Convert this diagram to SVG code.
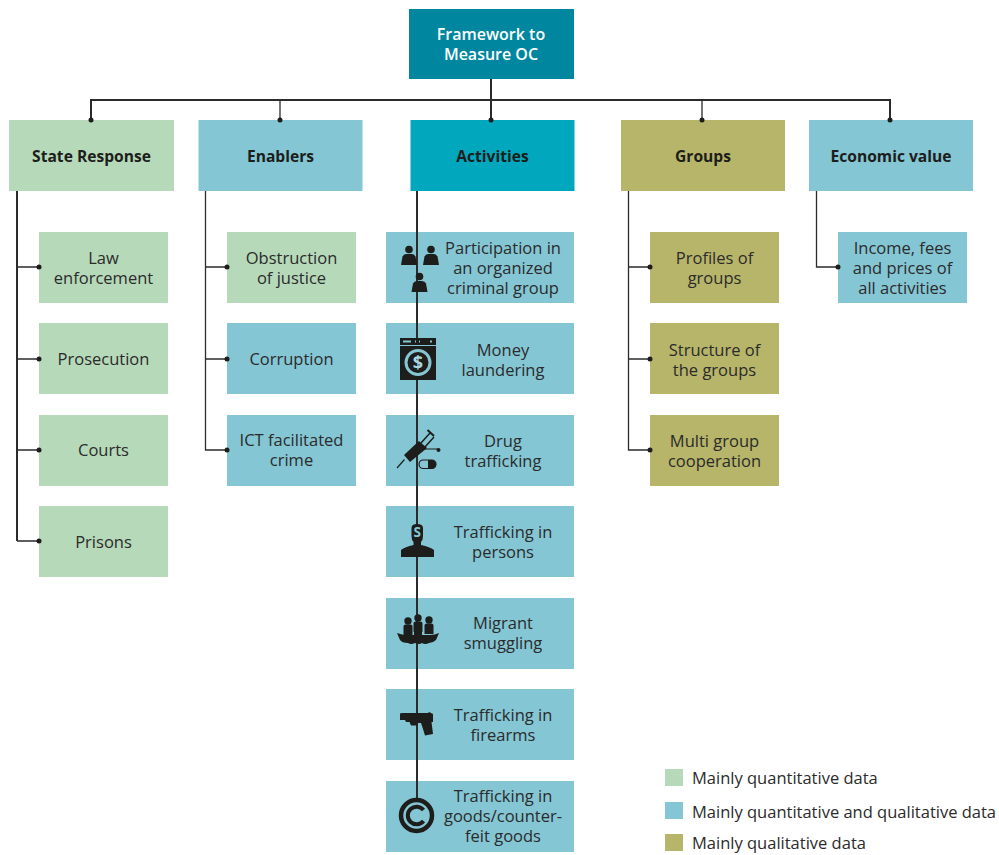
<svg xmlns="http://www.w3.org/2000/svg" width="999" height="855" viewBox="0 0 999 855">
<defs>
<style>
text{font-family:"Open Sans","Noto Sans","Liberation Sans",sans-serif;font-size:16.500px;fill:#2b2b2b;text-anchor:middle}
.b{font-weight:700;font-size:15.600px;fill:#1d1d1b}
.w{font-weight:600;font-size:16px;fill:#fff}
.l{text-anchor:start}
.g{fill:#b6d9b9}.t{fill:#84c6d4}.o{fill:#b7b569}.a{fill:#00a7bd}.d{fill:#00879f}
.c{fill:none;stroke:#2b2b2b;stroke-width:1.300}
.c2{fill:none;stroke:#2b2b2b;stroke-width:2}
.dot{fill:#1d1d1b}
.i{fill:#1d1d1b}
</style>
<g id="person"><circle cx="0" cy="-8.500" r="3.800"/><path d="M-8 7L-6.500 -1.500Q-5.500 -4 -2.500 -4H2.500Q5.500 -4 6.500 -1.500L8 7Z"/></g>
<g id="rider"><circle cx="0" cy="0" r="3.700"/><path d="M-4.500 14V5.500Q-4.500 3.500 -2.500 3.500H2.500Q4.500 3.500 4.500 5.500V14Z"/></g>
</defs>

<g id="node-root"><rect class="d" x="409" y="9" width="165" height="70"/><text class="w" x="491" y="40">Framework to</text><text class="w" x="491" y="60">Measure OC</text></g>

<g id="node-state"><rect class="g" x="9" y="120" width="165" height="71"/><text class="b" x="91.500" y="162">State Response</text></g>
<g id="node-enablers"><rect class="t" x="198.500" y="120" width="164" height="71"/><text class="b" x="280.500" y="162">Enablers</text></g>
<g id="node-activities"><rect class="a" x="410.500" y="120" width="164" height="71"/><text class="b" x="492.500" y="162">Activities</text></g>
<g id="node-groups"><rect class="o" x="621" y="120" width="164" height="71"/><text class="b" x="703" y="162">Groups</text></g>
<g id="node-economic"><rect class="t" x="809" y="120" width="164" height="71"/><text class="b" x="891" y="162">Economic value</text></g>

<g id="node-law"><rect class="g" x="39" y="232" width="129" height="71"/><text x="103.500" y="263.500">Law</text><text x="103.500" y="283.500">enforcement</text></g>
<g id="node-prosecution"><rect class="g" x="39" y="323" width="129" height="71"/><text x="103.500" y="365">Prosecution</text></g>
<g id="node-courts"><rect class="g" x="39" y="415" width="129" height="71"/><text x="103.500" y="456">Courts</text></g>
<g id="node-prisons"><rect class="g" x="39" y="506" width="129" height="71"/><text x="103.500" y="548">Prisons</text></g>

<g id="node-obstruction"><rect class="g" x="227" y="232" width="129" height="71"/><text x="291.500" y="263.500">Obstruction</text><text x="291.500" y="283.500">of justice</text></g>
<g id="node-corruption"><rect class="t" x="227" y="323" width="129" height="71"/><text x="291.500" y="365">Corruption</text></g>
<g id="node-ict"><rect class="t" x="227" y="415" width="129" height="71"/><text x="291.500" y="446">ICT facilitated</text><text x="291.500" y="466">crime</text></g>

<g id="node-participation"><rect class="t" x="386" y="232" width="188" height="71"/><text x="503" y="254">Participation in</text><text x="503" y="274">an organized</text><text x="503" y="294">criminal group</text></g>
<g id="node-money"><rect class="t" x="386" y="323" width="188" height="71"/><text x="503" y="355.500">Money</text><text x="503" y="375.500">laundering</text></g>
<g id="node-drug"><rect class="t" x="386" y="415" width="188" height="71"/><text x="503" y="446.500">Drug</text><text x="503" y="466.500">trafficking</text></g>
<g id="node-persons"><rect class="t" x="386" y="506" width="188" height="71"/><text x="503" y="538">Trafficking in</text><text x="503" y="558">persons</text></g>
<g id="node-migrant"><rect class="t" x="386" y="598" width="188" height="71"/><text x="503" y="629">Migrant</text><text x="503" y="649">smuggling</text></g>
<g id="node-firearms"><rect class="t" x="386" y="689" width="188" height="71"/><text x="503" y="721">Trafficking in</text><text x="503" y="741">firearms</text></g>
<g id="node-goods"><rect class="t" x="386" y="781" width="188" height="71"/><text x="503" y="802">Trafficking in</text><text x="503" y="822">goods/counter-</text><text x="503" y="842">feit goods</text></g>

<g id="node-profiles"><rect class="o" x="650" y="232" width="129" height="71"/><text x="714.500" y="263.500">Profiles of</text><text x="714.500" y="283.500">groups</text></g>
<g id="node-structure"><rect class="o" x="650" y="323" width="129" height="71"/><text x="714.500" y="355.500">Structure of</text><text x="714.500" y="375.500">the groups</text></g>
<g id="node-multi"><rect class="o" x="650" y="415" width="129" height="71"/><text x="714.500" y="446.500">Multi group</text><text x="714.500" y="466.500">cooperation</text></g>

<g id="node-income"><rect class="t" x="838" y="232" width="129" height="71"/><text x="902.500" y="254">Income, fees</text><text x="902.500" y="274">and prices of</text><text x="902.500" y="294">all activities</text></g>

<g id="connectors">
<path class="c2" d="M491 79V120M91 120V100H890V120"/>
<path class="c" d="M280 100V120M702 100V120"/>
<path class="c2" d="M17 191V541"/>
<path class="c" d="M17 541H39M17 450H39M17 359H39M17 267H39"/>
<path class="c" d="M205.500 191V450H227M205.500 359H227M205.500 267H227"/>
<path class="c2" d="M417 191V800"/>
<path class="c" d="M628.500 191V450H650M628.500 359H650M628.500 267H650"/>
<path class="c" d="M816.500 191V267H838"/>
<g class="dot">
<circle cx="91" cy="120" r="2.500"/><circle cx="280" cy="120" r="2.500"/><circle cx="491" cy="120" r="2.500"/><circle cx="702" cy="120" r="2.500"/><circle cx="890" cy="120" r="2.500"/>
<circle cx="39" cy="267" r="2.500"/><circle cx="39" cy="359" r="2.500"/><circle cx="39" cy="450" r="2.500"/><circle cx="39" cy="541" r="2.500"/>
<circle cx="227" cy="267" r="2.500"/><circle cx="227" cy="359" r="2.500"/><circle cx="227" cy="450" r="2.500"/>
<circle cx="650" cy="267" r="2.500"/><circle cx="650" cy="359" r="2.500"/><circle cx="650" cy="450" r="2.500"/>
<circle cx="838" cy="267" r="2.500"/>
</g>
</g>

<g id="icon-people" class="i"><use href="#person" x="409" y="258"/><use href="#person" x="431" y="258"/><use href="#person" x="419.500" y="285"/></g>
<g id="icon-washer"><rect class="i" x="400" y="338" width="36" height="42"/><path d="M403 341.500H411M415 341.500H416M419 341.500H420M430 341.500H432" stroke="#84c6d4" stroke-width="2" fill="none"/><path d="M400 345.500H436" stroke="#84c6d4" stroke-width="1"/><circle cx="418" cy="362.500" r="12" fill="none" stroke="#84c6d4" stroke-width="3"/><text x="418" y="369" style="font-size:18px;font-weight:700;fill:#a9d6e0">$</text></g>
<g id="icon-drug" class="i"><path d="M397 468L404.500 459.500" stroke="#1d1d1b" stroke-width="1.200"/><path d="M404 455L419 441L427 448L410 462Z"/><path d="M421 443L430 433M425 447L434 437" stroke="#1d1d1b" stroke-width="1.500"/><path d="M427.500 430L434 436" stroke="#1d1d1b" stroke-width="2"/><path d="M423 449H438" stroke="#1d1d1b" stroke-width="1"/><circle cx="438.500" cy="450" r="2"/><rect x="419" y="460" width="17" height="8.500" rx="4.200" fill="#84c6d4" stroke="#1d1d1b" stroke-width="1.200"/><path d="M428 460H431.800A4.200 4.200 0 0 1 431.800 468.500H428Z"/></g>
<g id="icon-persons" class="i"><path d="M411.500 528Q411.500 524 417 524Q423 524 423 528V536Q423 540 421 542V545Q430 547 434 550V557H401V550Q405 547 413.500 545V542Q411.500 540 411.500 536Z"/><text x="417.200" y="537" style="font-size:13.500px;font-weight:700;fill:#84c6d4">S</text></g>
<g id="icon-boat" class="i"><path d="M397 633Q402 635 407 635H430Q435 635 439 633L436 640Q433 643 429 643Q425 645 422 643Q419 645 415 643Q411 645 408 643Q402 643 400 640Z"/><use href="#rider" x="408" y="621"/><use href="#rider" x="418" y="618"/><use href="#rider" x="429" y="620"/><path d="M414 632V636H422V632Z"/></g>
<g id="icon-gun" class="i"><path d="M400 713.500L402 713H428L429 712L433 714V722H431.500L433 734L425 735.500L423 729L421 723H418L417 725.500H411L409.500 722H406L405 720H400Z"/></g>
<g id="icon-c"><circle cx="416.500" cy="815.500" r="15.500" fill="none" stroke="#1d1d1b" stroke-width="4.500"/><path d="M423.500 810A8.800 8.800 0 1 0 423.500 821" fill="none" stroke="#1d1d1b" stroke-width="4"/></g>

<g id="legend">
<rect class="g" x="665" y="769" width="18" height="17"/><text class="l" x="692" y="784">Mainly quantitative data</text>
<rect class="t" x="665" y="802" width="18" height="17"/><text class="l" x="692" y="818">Mainly quantitative and qualitative data</text>
<rect class="o" x="665" y="834" width="18" height="17"/><text class="l" x="692" y="849">Mainly qualitative data</text>
</g>
</svg>
